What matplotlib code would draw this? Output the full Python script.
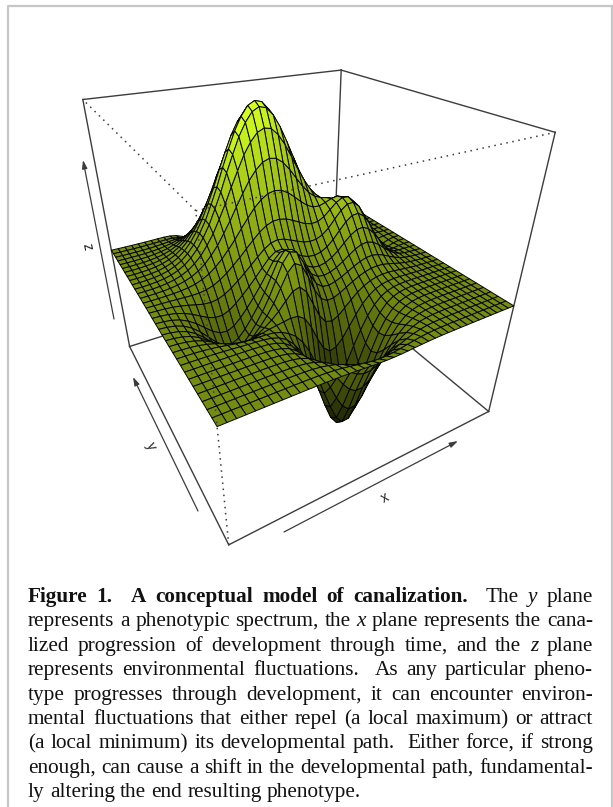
import numpy as np
import matplotlib
matplotlib.use("Agg")
import matplotlib.pyplot as plt
from matplotlib.lines import Line2D

# Surface heights are estimated from the picture as a sum of separable features:
# each feature has an amplitude plus hand-listed profiles along x (41 samples)
# and y (33 samples). Units: fraction of the box height, flat plane = 0.
peak_amp = 0.55
peak_x = [.002,.003,.006,.011,.019,.032,.051,.078,.117,.168,.236,.315,.413,.516,.631,.738,.840,.919,.976,.999,.987,.937,.855,.749,.631,.510,.397,.296,.212,.146,.097,.062,.038,.022,.012,.007,.004,.002,.001,0,0]
peak_y = [0,0,0,0,0,0,0,0,0,0,0,.001,.004,.010,.024,.055,.110,.201,.335,.510,.697,.864,.974,.998,.950,.850,.714,.564,.418,.292,.191,.117,.068]
back_bump_amp = 0.20
back_bump_x = [0,0,0,0,0,0,0,0,0,0,0,0,0,0,0,0,0,0,0,.001,.005,.014,.034,.076,.155,.278,.446,.649,.835,.964,.998,.923,.766,.564,.375,.224,.117,.056,.024,.009,.003]
back_bump_y = [0,0,0,0,0,0,0,.001,.004,.011,.031,.073,.152,.278,.458,.667,.855,.978,.990,.887,.708,.498,.310,.171,.085,.037,.014,.005,.002,0,0,0,0]
front_bump_amp = 0.18
front_bump_x = [0,0,0,0,0,0,0,0,0,0,.001,.006,.026,.089,.236,.487,.783,.98,.956,.726,.43,.198,.071,.02,.004,0,0,0,0,0,0,0,0,0,0,0,0,0,0,0,0]
front_bump_y = [0,0,0,0,.002,.008,.026,.074,.174,.349,.588,.830,.980,.978,.820,.576,.340,.171,.071,.025,.007,.002,0,0,0,0,0,0,0,0,0,0,0]
deep_pit_amp = -0.45
deep_pit_x = [0,0,0,0,0,0,0,0,.001,.004,.009,.022,.047,.093,.171,.282,.435,.607,.777,.919,.993,.984,.895,.749,.570,.402,.256,.152,.081,.041,.019,.008,.003,.001,0,0,0,0,0,0,0]
deep_pit_y = [.023,.062,.144,.287,.493,.726,.919,1.0,.930,.749,.510,.301,.152,.068,.025,.008,.002,0,0,0,0,0,0,0,0,0,0,0,0,0,0,0,0]
left_pit_amp = -0.15
left_pit_x = [.007,.020,.052,.117,.232,.397,.607,.815,.959,.998,.912,.732,.522,.325,.177,.087,.037,.014,.004,.001,0,0,0,0,0,0,0,0,0,0,0,0,0,0,0,0,0,0,0,0,0]
left_pit_y = [0,0,0,0,0,.001,.004,.016,.052,.138,.306,.552,.815,.980,.969,.783,.522,.282,.125,.046,.014,.003,0,0,0,0,0,0,0,0,0,0,0]
right_dip_amp = -0.05
right_dip_x = [0,0,0,0,0,0,0,0,0,0,0,0,0,0,0,0,0,0,0,0,0,0,0,0,0,0,0,0,0,0,.005,.032,.135,.386,.755,.992,.882,.531,.216,.060,.011]
right_dip_y = [0,0,0,0,0,0,0,0,0,0,0,0,0,.016,.08,.269,.607,.93,.969,.679,.325,.105,.023,.003,0,0,0,0,0,0,0,0,0]
back_left_dip_amp = -0.06
back_left_dip_x = [0,0,0,0,0,0,0,.004,.02,.071,.198,.43,.726,.956,.98,.783,.487,.236,.089,.026,.006,0,0,0,0,0,0,0,0,0,0,0,0,0,0,0,0,0,0,0,0]
back_left_dip_y = [0,0,0,0,0,0,0,0,0,0,0,0,0,0,0,0,0,0,0,0,0,0,0,0,0,0,.004,.025,.11,.334,.697,.976,.923]
back_right_dip_amp = -0.05
back_right_dip_x = [0,0,0,0,0,0,0,0,0,0,0,0,0,0,0,0,0,0,0,0,0,0,0,0,0,0,0,0,.006,.026,.089,.236,.487,.783,.98,.956,.726,.43,.198,.071,.02]
back_right_dip_y = [0,0,0,0,0,0,0,0,0,0,0,0,0,0,0,0,0,0,0,0,0,0,0,0,0,.003,.023,.105,.325,.679,.969,.93,.607]

features = [
    (peak_amp, peak_x, peak_y), (back_bump_amp, back_bump_x, back_bump_y),
    (front_bump_amp, front_bump_x, front_bump_y), (deep_pit_amp, deep_pit_x, deep_pit_y),
    (left_pit_amp, left_pit_x, left_pit_y), (right_dip_amp, right_dip_x, right_dip_y),
    (back_left_dip_amp, back_left_dip_x, back_left_dip_y),
    (back_right_dip_amp, back_right_dip_x, back_right_dip_y),
]
z_low, z_high = -0.45, 0.55
axis_labels = ["x", "y", "z"]
caption_lines = [
    [("Figure", "b"), ("1.", "b", 2), ("A", "b"), ("conceptual", "b"), ("model", "b"), ("of", "b"), ("canalization.", "b", 2), ("The", "r"), ("y", "i"), ("plane", "r")],
    [(w, "r") for w in "represents a phenotypic spectrum, the".split()] + [("x", "i")] + [(w, "r") for w in "plane represents the cana-".split()],
    [(w, "r") for w in "lized progression of development through time, and the".split()] + [("z", "i"), ("plane", "r")],
    [(w, "r") for w in "represents environmental".split()] + [("fluctuations.", "r", 2)] + [(w, "r") for w in "As any particular pheno-".split()],
    [(w, "r") for w in "type progresses through development, it can encounter environ-".split()],
    [(w, "r") for w in "mental fluctuations that either repel (a local maximum) or attract".split()],
    [(w, "r") for w in "(a local minimum) its developmental".split()] + [("path.", "r", 2)] + [(w, "r") for w in "Either force, if strong".split()],
    [(w, "r") for w in "enough, can cause a shift in the developmental path, fundamental-".split()],
    [(w, "r") for w in "ly altering the end resulting phenotype.".split()],
]

W, H = 613, 807
fig = plt.figure(figsize=(W / 100, H / 100), dpi=100, facecolor="white")

# --- surface ---
nx, ny = len(peak_x), len(peak_y)
xg = np.linspace(0, 1, nx)
yg = np.linspace(0, 1, ny)
X, Y = np.meshgrid(xg, yg)
Z = sum(a * np.outer(py, px) for a, px, py in features)

# facet colour: brightness follows height, with a gentle light from upper left
zc = (Z[:-1, :-1] + Z[1:, :-1] + Z[:-1, 1:] + Z[1:, 1:]) / 4
q = (zc - z_low) / (z_high - z_low)
zx = (np.diff(Z, axis=1)[:-1, :] + np.diff(Z, axis=1)[1:, :]) / 2 / (xg[1] - xg[0])
zy = (np.diff(Z, axis=0)[:, :-1] + np.diff(Z, axis=0)[:, 1:]) / 2 / (yg[1] - yg[0])
norm = np.sqrt(zx**2 + zy**2 + 1)
L = np.array([-0.35, 0.15, 0.93])
L = L / np.linalg.norm(L)
ndotl = (-zx * L[0] - zy * L[1] + L[2]) / norm
light = (((1 + ndotl) / 2) / ((1 + L[2]) / 2)) ** 0.25
level = np.clip((0.10 + 1.0 * q) * light, 0, 1)
base = np.array([0.83, 1.0, 0.12])
fc = np.zeros(level.shape + (4,))
fc[..., :3] = level[..., None] * base
fc[..., 3] = 1

A_W = 712.0
cx, cy = 295.5, 263.0
fr = 0.095 / 0.185
ax = fig.add_axes([(cx - fr * A_W) / W, (H - cy - fr * A_W) / H, A_W / W, A_W / H],
                  projection="3d", computed_zorder=False)
ax.patch.set_alpha(0)
ax.set_axis_off()
ax.set_xlim(0, 1)
ax.set_ylim(0, 1)
ax.set_zlim(z_low, z_high)
ax.set_box_aspect((1, 1, 1), zoom=0.7)
ax.set_proj_type("persp", focal_length=0.1421)
ax.view_init(elev=29.7, azim=-120.0, roll=0)

edge = "#3c3c3c"
b, t = z_low, z_high
solid = [((0, 0, b), (1, 0, b)), ((0, 0, b), (0, 1, b)), ((1, 0, b), (1, 1, b)), ((0, 1, b), (1, 1, b)),
         ((0, 1, b), (0, 1, t)), ((1, 0, b), (1, 0, t)), ((1, 1, b), (1, 1, t)),
         ((0, 1, t), (1, 1, t)), ((1, 0, t), (1, 1, t))]
dotted = [((0, 0, b), (0, 0, t)), ((0, 0, t), (0, 1, t)), ((0, 0, t), (1, 0, t))]
for p, r in solid:
    ax.plot(*zip(p, r), color=edge, lw=1.0, zorder=1, clip_on=False)

surf = ax.plot_surface(X, Y, Z, rstride=1, cstride=1, facecolors=fc, shade=False, zorder=2, antialiased=True)
surf.set_edgecolor("#050500")
surf.set_linewidth(0.7)

for p, r in dotted:
    ax.plot(*zip(p, r), color=edge, lw=1.1, ls=(0, (1, 3)), zorder=3, clip_on=False)

# --- axis arrows, labels, page frame ---
ov = fig.add_axes([0, 0, 1, 1], facecolor="none")
ov.set_xlim(0, W)
ov.set_ylim(H, 0)
ov.axis("off")
for start, end in [((284, 532), (458, 441)), ((198, 511), (133, 377)), ((114, 319), (83, 160))]:
    ov.annotate("", xy=end, xytext=start,
                arrowprops=dict(arrowstyle="-|>,head_width=0.14,head_length=0.45", color=edge, lw=0.9,
                                shrinkA=0, shrinkB=0, mutation_scale=11))
for lab, pos, rot in zip(axis_labels, [(385, 498), (151, 446), (87, 247)], [28, -64, -79]):
    ov.text(*pos, lab, family="Liberation Sans", fontsize=10, rotation=rot, ha="center", va="center",
            color="#222222", rotation_mode="anchor")
frame = "#c6c6c6"
ov.add_line(Line2D([8, 8, W], [H, 6, 6], color=frame, lw=1.6))
ov.add_line(Line2D([W - 1, W - 1], [6, H], color=frame, lw=1.6))

# --- justified caption ---
styles = {"r": dict(weight="normal", style="normal"), "b": dict(weight="bold", style="normal"),
          "i": dict(weight="normal", style="italic")}
renderer = fig.canvas.get_renderer()
fs = 15.3
left, right = 28.0, 593.0
base0, step = 602.0, 24.4
natural_gap = 5.2
for n, line in enumerate(caption_lines):
    yb = base0 + n * step
    artists, gaps = [], []
    for item in line:
        word, sty = item[0], item[1]
        gaps.append(item[2] if len(item) > 2 else 1)
        artists.append(ov.text(0, yb, word, family="Liberation Serif", fontsize=fs, va="baseline", ha="left",
                               color="#111111", **styles[sty]))
    widths = [a.get_window_extent(renderer).width for a in artists]
    gap_weights = sum(gaps[:-1])
    gap = natural_gap if n == len(caption_lines) - 1 else (right - left - sum(widths)) / gap_weights
    xp = left
    for a, w, g in zip(artists, widths, gaps):
        a.set_x(xp)
        xp += w + gap * g

fig.savefig("out.png", dpi=100)
